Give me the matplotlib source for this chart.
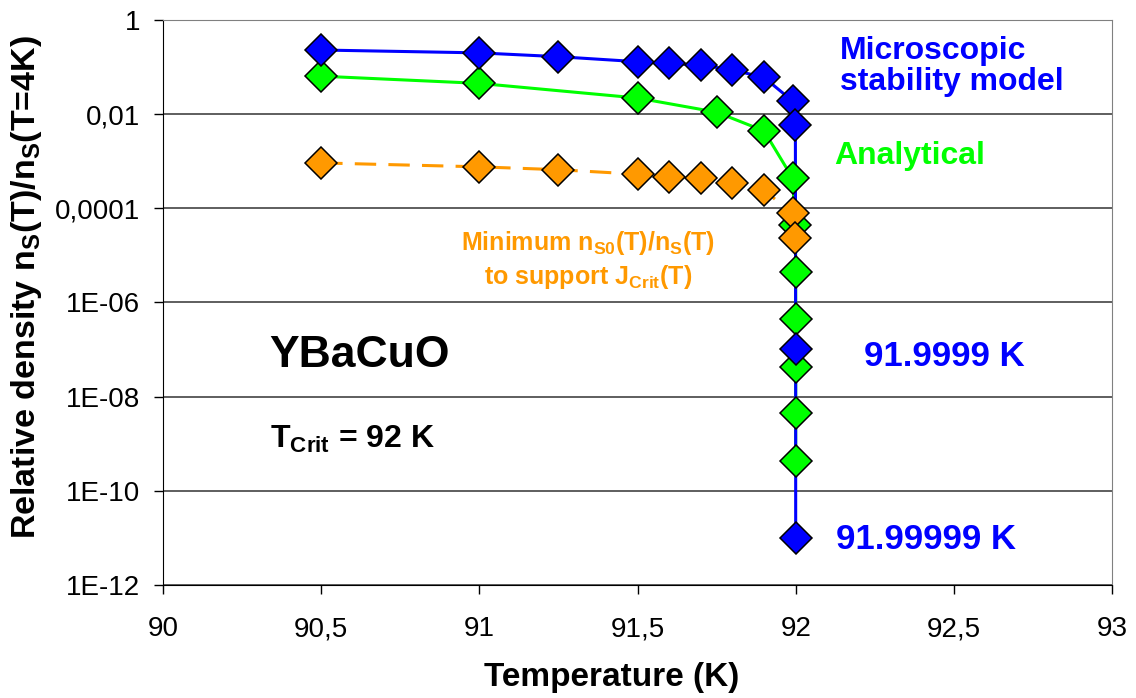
import matplotlib
matplotlib.use("Agg")
import matplotlib.pyplot as plt

plt.rcParams.update({"font.family": "Liberation Sans", "font.size": 20,
    "mathtext.fontset": "custom", "mathtext.rm": "Liberation Sans",
    "mathtext.bf": "Liberation Sans:bold", "mathtext.it": "Liberation Sans:italic"})

BLUE = "#0000FF"; GREEN = "#00FF00"; ORANGE = "#FF9900"

# microscopic stability model
micro_T = [90.5, 91.0, 91.25, 91.5, 91.6, 91.7, 91.8, 91.9, 91.99, 91.999, 91.9999, 91.99999]
micro_n = [0.23, 0.20, 0.166, 0.13, 0.12, 0.11, 0.087, 0.06, 0.019, 0.0059, 1.05e-7, 1.0e-11]
# analytical
anal_T = [90.5, 91.0, 91.5, 91.75, 91.9, 91.99, 91.999, 91.9999, 91.99999,
          91.999999, 91.9999999, 91.99999999]
anal_n = [0.064, 0.045, 0.022, 0.011, 0.0044, 4.4e-4, 4.4e-5, 4.4e-6, 4.4e-7,
          4.2e-8, 4.4e-9, 4.2e-10]
# minimum n_S0/n_S to support J_crit
min_T = [90.5, 91.0, 91.25, 91.5, 91.6, 91.7, 91.8, 91.9, 91.99, 91.999]
min_n = [9.2e-4, 7.6e-4, 6.6e-4, 5.3e-4, 4.6e-4, 4.3e-4, 3.4e-4, 2.4e-4, 7.9e-5, 2.3e-5]

xticks = [90, 90.5, 91, 91.5, 92, 92.5, 93]
xticklabels = ["90", "90,5", "91", "91,5", "92", "92,5", "93"]
yticks = [1, 1e-2, 1e-4, 1e-6, 1e-8, 1e-10, 1e-12]
yticklabels = ["1", "0,01", "0,0001", "1E-06", "1E-08", "1E-10", "1E-12"]

fig = plt.figure(figsize=(11.36, 6.98), dpi=100)
ax = fig.add_axes([0.1435, 0.1619, 0.8354, 0.8095])
ax.set_yscale("log")
ax.set_xlim(90, 93); ax.set_ylim(1e-12, 1)

# lines under markers (blue drawn over green on the vertical drop)
ax.plot(anal_T, anal_n, color=GREEN, lw=2.2, zorder=2)
ax.plot(min_T, min_n, color=ORANGE, lw=2.2, ls=(0, (7, 4)), zorder=2)
ax.plot(micro_T, micro_n, color=BLUE, lw=2.2, zorder=2.5)
mk = dict(marker="D", ms=16, mec="black", mew=1.1, ls="none")
ax.plot(anal_T, anal_n, mfc=GREEN, zorder=3, **mk)
ax.plot(min_T, min_n, mfc=ORANGE, zorder=4, **mk)
ax.plot(micro_T, micro_n, mfc=BLUE, zorder=5, **mk)

ax.set_xticks(xticks); ax.set_xticklabels(xticklabels)
ax.set_yticks(yticks); ax.set_yticklabels(yticklabels)
ax.minorticks_off()
ax.tick_params(axis="both", direction="out", length=6.5, width=1, labelsize=20)
ax.tick_params(axis="x", pad=16)
ax.tick_params(axis="y", pad=10)
for y in yticks:
    ax.axhline(y, color="#333333", lw=1.1, zorder=1)
for s in ("top", "right"):
    ax.spines[s].set_color("#808080")
for s in ("left", "bottom"):
    ax.spines[s].set_color("black")

ax.set_xlabel("Temperature (K)", fontsize=24, fontweight="bold", labelpad=14, x=0.473)
ax.set_ylabel(r"Relative density n$_\mathbf{S}$(T)/n$_\mathbf{S}$(T=4K)",
              fontsize=24.5, fontweight="bold", labelpad=8, y=0.527)

tr = ax.transAxes
ax.text(0.713, 0.917, "Microscopic\nstability model", transform=tr, color=BLUE,
        fontsize=23, fontweight="bold", ha="left", va="center", linespacing=1.05)
ax.text(0.7075, 0.759, "Analytical", transform=tr, color=GREEN,
        fontsize=23, fontweight="bold", ha="left", va="center")
ax.text(0.448, 0.575, "Minimum n$_\\mathbf{S0}$(T)/n$_\\mathbf{S}$(T)\nto support J$_\\mathbf{Crit}$(T)",
        transform=tr, color=ORANGE, fontsize=18, fontweight="bold", ha="center", va="center",
        linespacing=1.25)
ax.text(0.112, 0.407, "YBaCuO", transform=tr, color="black",
        fontsize=32, fontweight="bold", ha="left", va="center")
ax.text(0.113, 0.257, r"T$_\mathbf{Crit}$ = 92 K", transform=tr, color="black",
        fontsize=23, fontweight="bold", ha="left", va="center")
ax.text(0.739, 0.404, "91.9999 K", transform=tr, color=BLUE,
        fontsize=25, fontweight="bold", ha="left", va="center")
ax.text(0.7096, 0.080, "91.99999 K", transform=tr, color=BLUE,
        fontsize=25, fontweight="bold", ha="left", va="center")

fig.savefig("out.png", dpi=100)
